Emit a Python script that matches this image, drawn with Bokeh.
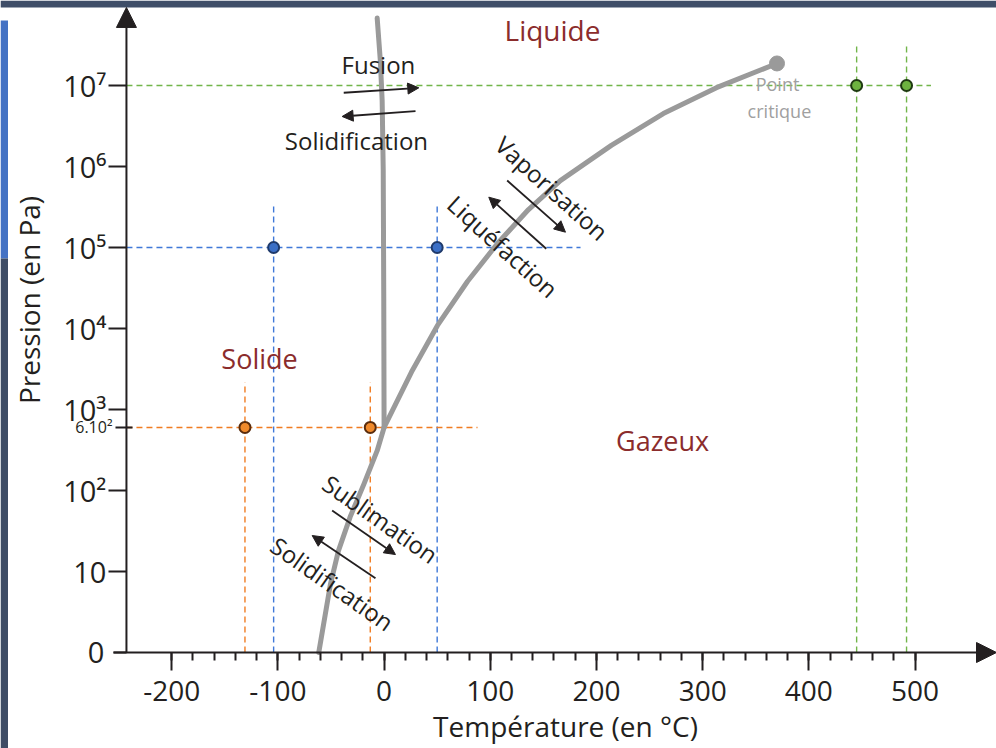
import math
from bokeh.plotting import figure
from bokeh.models import Range1d, FixedTicker, Arrow, NormalHead, Label, LogAxis, BoxAnnotation
from bokeh.embed import file_html
from bokeh.resources import INLINE

# ---------------- data ----------------
x_ticks = [-200, -100, 0, 100, 200, 300, 400, 500]
x_tick_labels = ["-200", "-100", "0", "100", "200", "300", "400", "500"]
y_ticks = [10, 100, 1000, 10000, 100000, 1000000, 10000000]
y_tick_labels = ["10", "10²", "10³", "10⁴", "10⁵", "10⁶", "10⁷"]
origin_tick = 1
origin_tick_label = "0"
triple_tick = 600
triple_tick_label = "6.10²"

# solid / liquid boundary (fusion)
fusion_T = [0.01, -0.3, -0.8, -1.8, -3.5, -6.5]
fusion_P = [600, 2.5e4, 9e5, 6.5e6, 2.0e7, 6.8e7]
# liquid / gas boundary (vaporisation)
vapor_T = [0.01, 25.8, 50.3, 78.5, 106.8, 136, 166, 214, 263, 313, 370]
vapor_P = [600, 2.9e3, 1.09e4, 3.8e4, 1.12e5, 2.94e5, 6.7e5, 1.82e6, 4.5e6, 9.4e6, 1.87e7]
# solid / gas boundary (sublimation)
sub_T = [0.01, -6.5, -19, -32, -43, -50.5, -61.5]
sub_P = [600, 310, 120, 47, 18, 7, 1]
# critical point
critical_T = [370]
critical_P = [1.87e7]

# marked states
blue_T = [-104, 50]
blue_P = 1e5
orange_T = [-131, -13]
orange_P = 600
green_T = [445, 492]
green_P = 1e7

# guide extents (end of horizontal guide, top of vertical guides)
blue_h_end, blue_v_top = 185, 3.3e5
orange_h_end, orange_v_top = 88, 2.17e3
green_h_end, green_v_top = 515, 3.1e7

# ---------------- styling / layout ----------------
FONT = "Open Sans"
INK = "#231f20"
GRAY = "#9a9a9a"
RED = "#8b2c2c"
BLUE, BLUE_D, BLUE_L = "#3f78d8", "#1f3a6b", "#3b6fc6"
ORANGE, ORANGE_D, ORANGE_L = "#f07c22", "#5a2c0c", "#f08a2c"
GREEN, GREEN_D, GREEN_L = "#72b54a", "#1f3a12", "#6db33f"

W, H = 996, 748
X_LO, X_HI = -361.2, 576.7          # whole canvas is the frame
Y_LO, Y_HI = 10 ** -1.185, 10 ** 8.049
X_AXIS = -242.6                      # temperature where the pressure axis stands
Y_AXIS = 1.0                         # pressure where the temperature axis lies
X_AXIS_START = -254.8                # left overhang of the temperature axis
Y_AXIS_TOP = 10 ** 7.963             # tip of the pressure axis arrow

p = figure(width=W, height=H, x_range=Range1d(X_LO, X_HI), y_range=Range1d(Y_LO, Y_HI),
           y_axis_type="log", output_backend="svg", toolbar_location=None,
           min_border_left=0, min_border_right=0, min_border_top=0, min_border_bottom=0)
p.outline_line_color = None
p.xgrid.visible = False
p.ygrid.visible = False
p.background_fill_color = "white"
p.border_fill_color = "white"

# window chrome of the original screenshot (top band, left strip)
def px_x(px):
    return X_LO + px * (X_HI - X_LO) / W

def px_y(py):
    lo, hi = math.log10(Y_LO), math.log10(Y_HI)
    return 10 ** (hi - py * (hi - lo) / H)

for l, r, t, b, c in [(0, W, 0, 7, "#3f4e68"), (0, 7.5, 20, 258, "#4472c4"),
                      (0, 7.5, 258, H, "#3e4c65")]:
    p.add_layout(BoxAnnotation(left=px_x(l), right=px_x(r), top=px_y(t), bottom=px_y(b),
                               fill_color=c, fill_alpha=1, line_color=None))

# x axis
xa = p.xaxis[0]
xa.fixed_location = Y_AXIS
xa.bounds = (-235, X_HI)
xa.ticker = FixedTicker(ticks=x_ticks, minor_ticks=list(range(-200, 501, 20)))
xa.major_label_overrides = dict(zip(x_ticks, x_tick_labels))
xa.axis_label = "Température (en °C)"
xa.axis_line_color = None
xa.major_tick_out = 18
xa.major_tick_in = 0
xa.minor_tick_out = 8
xa.minor_tick_in = 0
xa.major_tick_line_width = 2
xa.minor_tick_line_width = 2
xa.major_tick_line_color = INK
xa.minor_tick_line_color = INK
xa.major_label_text_font = FONT
xa.major_label_text_font_size = "28px"
xa.major_label_text_color = INK
xa.major_label_standoff = 10
xa.axis_label_text_font = FONT
xa.axis_label_text_font_size = "28px"
xa.axis_label_text_font_style = "normal"
xa.axis_label_text_color = INK
xa.axis_label_standoff = 3

# y axis (decades)
ya = p.yaxis[0]
ya.fixed_location = X_AXIS
ya.bounds = (4.5, Y_HI)
ya.ticker = FixedTicker(ticks=y_ticks, minor_ticks=[])
ya.major_label_overrides = dict(zip(y_ticks, y_tick_labels))
ya.axis_label = "Pression (en Pa)"
ya.axis_line_color = None
ya.major_tick_out = 18
ya.major_tick_in = 0
ya.minor_tick_out = 0
ya.minor_tick_in = 0
ya.minor_tick_line_color = None
ya.major_tick_line_width = 2
ya.major_tick_line_color = INK
ya.major_label_text_font = FONT
ya.major_label_text_font_size = "29px"
ya.major_label_text_color = INK
ya.major_label_standoff = 2
ya.axis_label_text_font = FONT
ya.axis_label_text_font_size = "28px"
ya.axis_label_text_font_style = "normal"
ya.axis_label_text_color = INK
ya.axis_label_standoff = 12

# origin tick "0"
oa = LogAxis(fixed_location=X_AXIS, ticker=FixedTicker(ticks=[origin_tick], minor_ticks=[]),
             major_label_overrides={origin_tick: origin_tick_label},
             axis_line_color=None, major_tick_out=13, major_tick_in=0,
             major_tick_line_width=2, major_tick_line_color=INK,
             minor_tick_line_color=None, major_label_standoff=9,
             major_label_text_font=FONT, major_label_text_font_size="29px",
             major_label_text_color=INK)
p.add_layout(oa, "left")

# triple-point pressure tick (smaller label, crossing tick)
ta = LogAxis(fixed_location=X_AXIS, ticker=FixedTicker(ticks=[triple_tick], minor_ticks=[]),
             major_label_overrides={triple_tick: triple_tick_label},
             axis_line_color=None, major_tick_out=11, major_tick_in=6,
             major_tick_line_width=2, major_tick_line_color=INK,
             minor_tick_line_color=None, major_label_standoff=3,
             major_label_text_font=FONT, major_label_text_font_size="16px",
             major_label_text_color=INK)
p.add_layout(ta, "left")

# axis lines with arrow heads
p.add_layout(Arrow(end=NormalHead(size=20, fill_color=INK, line_color=INK, line_width=1),
                   x_start=X_AXIS, y_start=Y_AXIS, x_end=X_AXIS, y_end=Y_AXIS_TOP,
                   line_width=2, line_color=INK))
p.add_layout(Arrow(end=NormalHead(size=20, fill_color=INK, line_color=INK, line_width=1),
                   x_start=X_AXIS_START, y_start=Y_AXIS, x_end=X_HI, y_end=Y_AXIS,
                   line_width=2, line_color=INK))

# guides
DASH = "6 4"
def guides(T, P, h_end, v_top, color):
    p.segment(x0=[X_AXIS], y0=[P], x1=[h_end], y1=[P], line_color=color, line_width=1.4, line_dash=DASH)
    p.segment(x0=T, y0=[Y_AXIS] * len(T), x1=T, y1=[v_top] * len(T),
              line_color=color, line_width=1.4, line_dash=DASH)

guides(blue_T, blue_P, blue_h_end, blue_v_top, BLUE)
guides(orange_T, orange_P, orange_h_end, orange_v_top, ORANGE)
guides(green_T, green_P, green_h_end, green_v_top, GREEN)

# phase boundaries
for T, P in [(fusion_T, fusion_P), (vapor_T, vapor_P), (sub_T, sub_P)]:
    p.line(T, P, line_width=5, line_color=GRAY, line_join="round", line_cap="round")
p.scatter(critical_T, critical_P, size=15, fill_color=GRAY, line_color=GRAY)

# marked states
p.scatter(blue_T, [blue_P] * len(blue_T), size=11, fill_color=BLUE_L, line_color=BLUE_D, line_width=2)
p.scatter(orange_T, [orange_P] * len(orange_T), size=11, fill_color=ORANGE_L, line_color=ORANGE_D, line_width=2)
p.scatter(green_T, [green_P] * len(green_T), size=11, fill_color=GREEN_L, line_color=GREEN_D, line_width=2)

# texts
def lab(x, y, text, size, color=INK, angle=0.0):
    p.add_layout(Label(x=x, y=y, text=text, text_font=FONT, text_font_size=size,
                       text_color=color, text_align="center", text_baseline="middle",
                       angle=math.radians(angle)))

lab(158.6, 4.8e7, "Liquide", "28px", RED)
lab(-117.3, 4.3e3, "Solide", "27px", RED)
lab(262.3, 414, "Gazeux", "27px", RED)
lab(-5.3, 1.82e7, "Fusion", "24px")
lab(-26.0, 2.09e6, "Solidification", "24px")
lab(370.5, 1.03e7, "Point", "18px", "#a0a0a0")
lab(372.3, 4.8e6, "critique", "18px", "#a0a0a0")
lab(158.1, 5.43e5, "Vaporisation", "24px", INK, -42)
lab(112.0, 1.035e5, "Liquéfaction", "24px", INK, -42)
lab(-3.4, 44.7, "Sublimation", "24px", INK, -35)
lab(-48.6, 7.11, "Solidification", "24px", INK, -35)

# transformation arrows
def arr(xs, ys, xe, ye):
    p.add_layout(Arrow(end=NormalHead(size=11, fill_color=INK, line_color=INK, line_width=1),
                       x_start=xs, y_start=ys, x_end=xe, y_end=ye,
                       line_width=1.8, line_color=INK))

arr(-38.0, 8.13e6, 32.7, 9.35e6)
arr(29.6, 4.82e6, -39.5, 4.14e6)
arr(115.9, 6.72e5, 170.8, 1.545e5)
arr(152.7, 9.64e4, 98.6, 4.18e5)
arr(-48.9, 56.6, 10.7, 16.2)
arr(-8.1, 8.26, -67.7, 27.8)

open("out.html", "w").write(file_html(p, INLINE))
